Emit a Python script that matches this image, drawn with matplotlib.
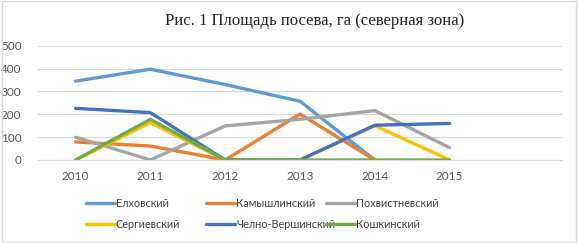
import numpy as np
from matplotlib import pyplot as plt

# chart data
years = ['2010', '2011', '2012', '2013', '2014', '2015', '']
names = ['Елховский', 'Камышлинский', 'Похвистневский',
         'Сергиевский', 'Челно-Вершинский', 'Кошкинский']
elkhovsky = [345, 397, 330, 257, 0, None]
kamyshla = [79, 61, 0, 201, 0, None]
pokhvistnevo = [100, 0, 149, 178, 216, 54]
sergievsk = [0, 163, 0, 0, 150, 0]
chelno = [226, 207, 0, 0, 152, 160]
koshki = [0, 178, 0, 0, 0, 0]
series = [elkhovsky, kamyshla, pokhvistnevo, sergievsk, chelno, koshki]
colors = ['#5B9BD5', '#ED7D31', '#A5A5A5', '#FFC000', '#4472C4', '#70AD47']

plt.rcParams['font.family'] = ['Lato', 'DejaVu Sans']

fig = plt.figure(figsize=(5.78, 2.43), dpi=100)
ax = fig.add_axes([0.066, 0.3416, 0.906, 0.4704])

lines = []
for vals, name, c in zip(series, names, colors):
    y = np.array([np.nan if v is None else v for v in vals], dtype=float)
    ln, = ax.plot(np.arange(len(y)), y, color=c, lw=2.4, label=name,
                  solid_capstyle='round', solid_joinstyle='round')
    lines.append(ln)

ax.set_xlim(-0.5, len(years) - 0.5)
ax.set_ylim(0, 500)
ax.set_yticks(range(0, 501, 100))
ax.set_xticks(range(len(years)))
ax.set_xticklabels(years)
ax.grid(axis='y', color='#D9D9D9', lw=0.9)
ax.set_axisbelow(True)
for s in ['top', 'right', 'left']:
    ax.spines[s].set_visible(False)
ax.spines['bottom'].set_color('#D9D9D9')
ax.tick_params(length=0, labelsize=8.5, colors='#595959', pad=8)
ax.tick_params(axis='y', pad=12)

fig.text(0.545, 0.915, 'Рис. 1 Площадь посева, га (северная зона)',
         family='Liberation Serif', fontsize=12.0, ha='center', va='center',
         color='#222222')

# legend: three columns of two entries, fixed column positions like Excel
col_x = [0.148, 0.356, 0.564]
for k in range(3):
    pair = [lines[k], lines[k + 3]]
    leg = fig.legend(pair, [names[k], names[k + 3]], loc='center left',
                     bbox_to_anchor=(col_x[k], 0.12), frameon=False,
                     fontsize=7.8, handlelength=2.7, handletextpad=0.1,
                     labelspacing=0.95, borderpad=0, borderaxespad=0)
    for t in leg.get_texts():
        t.set_color('#404040')

# outer frame
fig.patches.append(plt.Rectangle((0.003, 0.005), 0.994, 0.99, fill=False,
                                 edgecolor='#D9D9D9', lw=1,
                                 transform=fig.transFigure))

fig.savefig('out.png', dpi=100)
